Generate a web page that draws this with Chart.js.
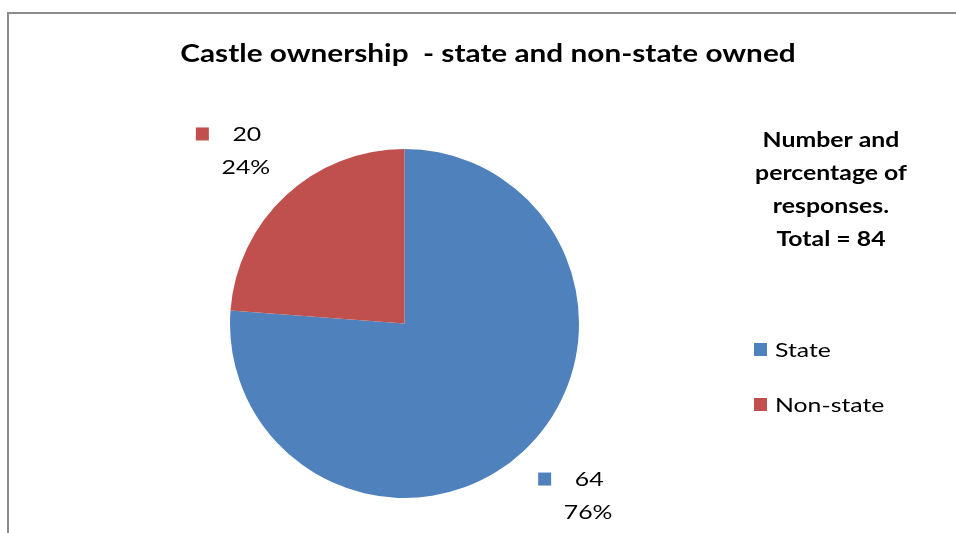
<!DOCTYPE html>
<html>
<head>
<meta charset="utf-8">
<script src="https://cdn.jsdelivr.net/npm/chart.js@4.4.1/dist/chart.umd.min.js"></script>
<style>
    html, body { margin: 0; padding: 0; background: #fff; }
    #wrap { width: 956px; height: 533px; position: relative; }
</style>
</head>
<body>
<div id="wrap"><canvas id="chartPie"></canvas></div>
<script>
// Dados do gráfico
const categorias = ['State', 'Non-state'];
const respostas = [64, 20];
const cores = ['#4F81BD', '#C0504D'];

const titulo = 'Castle ownership  - state and non-state owned';
const nota = ['Number and', 'percentage of', 'responses.', 'Total = 84'];

const FONTE = 'Lato, "Open Sans", sans-serif';
const ESTICA = 1.24; // o original tem o texto mais largo

// Escreve texto esticado na horizontal
function texto(ctx, t, x, y, align) {
    ctx.save();
    ctx.translate(x, y);
    ctx.scale(ESTICA, 1);
    ctx.textAlign = align || 'center';
    ctx.fillText(t, 0, 0);
    ctx.restore();
}

// Desenha título, moldura, rótulos e legenda
const extras = {
    id: 'extras',
    afterDraw(chart) {
        const ctx = chart.ctx;
        ctx.save();

        // moldura
        ctx.strokeStyle = '#8c8c8c';
        ctx.lineWidth = 2;
        ctx.beginPath();
        ctx.moveTo(8, 533);
        ctx.lineTo(8, 13);
        ctx.lineTo(956, 13);
        ctx.stroke();

        ctx.fillStyle = '#000';
        ctx.textBaseline = 'middle';

        // título
        ctx.font = 'bold 24px ' + FONTE;
        texto(ctx, titulo, 488, 54);

        // nota à direita
        ctx.font = 'bold 20px ' + FONTE;
        nota.forEach((t, i) => texto(ctx, t, 831, 141 + i * 33));

        // rótulos das fatias (caixa encostada na direção do meio da fatia)
        const total = respostas.reduce((a, b) => a + b, 0);
        const arcs = chart.getDatasetMeta(0).data;
        ctx.font = '20px ' + FONTE;
        const bw = 75, bh = 57;
        arcs.forEach((arc, i) => {
            const mid = (arc.startAngle + arc.endAngle) / 2;
            const dx = Math.cos(mid), dy = Math.sin(mid);
            const d = arc.outerRadius + 22;
            const px = arc.x + dx * d, py = arc.y + dy * d;
            const bx = dx < 0 ? px - bw : px;
            const by = dy < 0 ? py - bh : py;
            ctx.fillStyle = cores[i];
            ctx.fillRect(bx, by + 5, 13, 13);
            ctx.fillStyle = '#000';
            texto(ctx, String(respostas[i]), bx + 51, by + 12);
            texto(ctx, Math.round(respostas[i] / total * 100) + '%', bx + 50, by + 45);
        });

        // legenda
        categorias.forEach((c, i) => {
            const y = 351 + i * 55;
            ctx.fillStyle = cores[i];
            ctx.fillRect(754, y - 8, 13, 13);
            ctx.fillStyle = '#000';
            texto(ctx, c, 775, y, 'left');
        });

        ctx.restore();
    }
};

document.addEventListener('DOMContentLoaded', function () {
    const el = document.getElementById('chartPie');
    new Chart(el.getContext('2d'), {
        type: 'pie',
        data: {
            labels: categorias,
            datasets: [{
                data: respostas,
                backgroundColor: cores,
                borderWidth: 0
            }]
        },
        options: {
            responsive: true,
            maintainAspectRatio: false,
            animation: false,
            layout: {
                padding: { top: 148, bottom: 34, left: 230, right: 377 }
            },
            plugins: {
                legend: { display: false },
                tooltip: { enabled: false },
                title: { display: false }
            }
        },
        plugins: [extras]
    });
});
</script>
</body>
</html>
